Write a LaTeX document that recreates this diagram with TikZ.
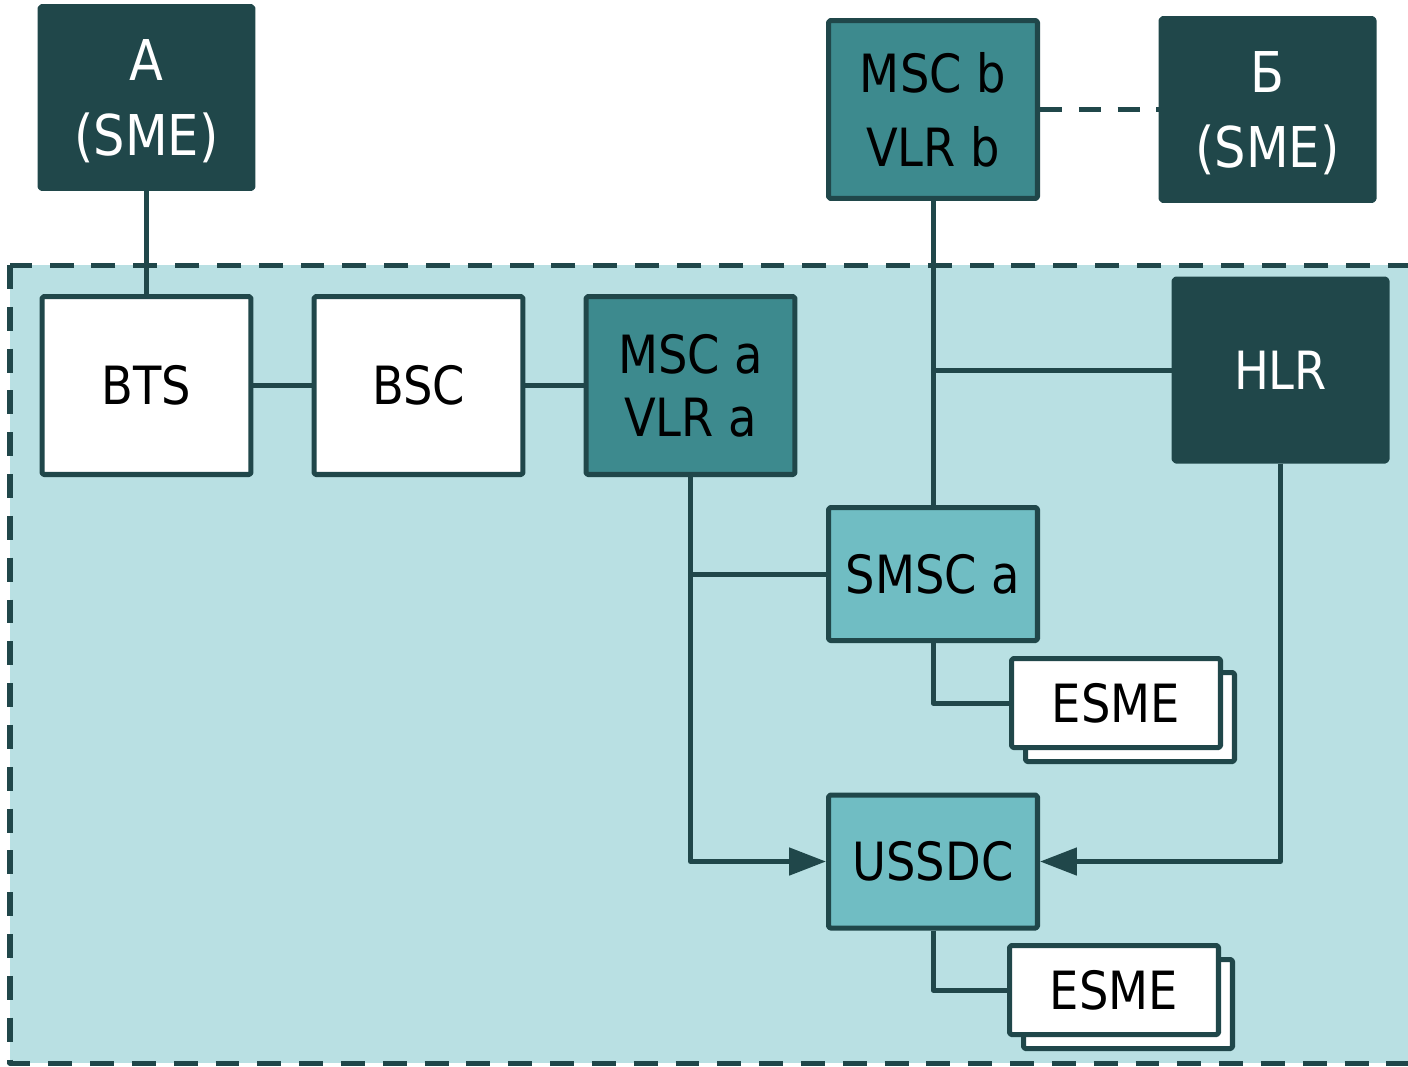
\documentclass[tikz,border=0pt]{standalone}
\usepackage{fontspec}
\setmainfont{DejaVu Sans}[FakeStretch=0.88]
\usetikzlibrary{arrows.meta,shadows}
\definecolor{netdark}{HTML}{20474A}
\definecolor{netmid}{HTML}{3D8A8E}
\definecolor{netlight}{HTML}{70BDC3}
\definecolor{netzone}{HTML}{B9E0E3}

\begin{document}
\begin{tikzpicture}[x=0.02cm, y=-0.02cm, line join=round,
    unit/.style={draw=netdark, line width=2.85pt, rounded corners=1pt, inner sep=0pt, align=center,
      minimum width=4.18cm, minimum height=3.56cm, font=\fontsize{30}{42}\selectfont},
    sme/.style={unit, fill=netdark, text=white, minimum width=4.26cm, minimum height=3.64cm,
      font=\fontsize{32}{43}\selectfont},
    msc/.style={unit, fill=netmid},
    bss/.style={unit, fill=white},
    smsc/.style={unit, fill=netlight, minimum height=2.66cm},
    esme/.style={unit, fill=white, minimum height=1.78cm,
      copy shadow={shadow xshift=0.28cm, shadow yshift=-0.28cm, draw=netdark, fill=white, line width=2.85pt}},
    link/.style={draw=netdark, line width=2.85pt},
    arrowlink/.style={link, -{Triangle[length=0.74cm, width=0.54cm]}}]
    \useasboundingbox (0,0) rectangle (1408,1066);
    \clip (0,0) rectangle (1408,1066);
    \fill[white] (0,0) rectangle (1408,1066);
    \fill[netzone] (10,265) rectangle (1460,1063);
    \draw[link, dash pattern=on 13.6pt off 10.2pt] (10,265) rectangle (1460,1063);

    \node[sme, text depth=0pt] (smea) at (146.5,97.5) {А\\(SME)};
    \node[msc] (mscb) at (933,109.5) {MSC b\\VLR b};
    \node[sme, text depth=0pt] (smeb) at (1267.5,109.5) {Б\\(SME)};
    \node[bss] (bts) at (146.5,385.5) {BTS};
    \node[bss] (bsc) at (418.5,385.5) {BSC};
    \node[msc, font=\fontsize{30}{36}\selectfont] (msca) at (690.5,385.5) {MSC a\\VLR a};
    \node[sme, font=\fontsize{30}{42}\selectfont] (hlr) at (1280.5,370) {HLR};
    \node[smsc] (smsc) at (933,574) {SMSC a};
    \node[smsc] (ussdc) at (933,861.5) {USSDC};
    \node[esme] (esmea) at (1116,703) {ESME};
    \node[esme] (esmeb) at (1114,990) {ESME};

    \draw[link] (smea) -- (bts);
    \draw[link] (bts) -- (bsc);
    \draw[link] (bsc) -- (msca);
    \draw[link, dash pattern=on 12.5pt off 9.6pt] (mscb) -- (smeb);
    \draw[link] (mscb) -- (smsc);
    \draw[link] (hlr.west) -- (hlr.west -| mscb.south);
    \draw[link] (smsc.west) -- (smsc.west -| msca.south);
    \draw[arrowlink] (msca.south) |- (ussdc.west);
    \draw[arrowlink] (hlr.south) |- (ussdc.east);
    \draw[link] (smsc.south) |- (esmea.west);
    \draw[link] (ussdc.south) |- (esmeb.west);
\end{tikzpicture}
\end{document}
